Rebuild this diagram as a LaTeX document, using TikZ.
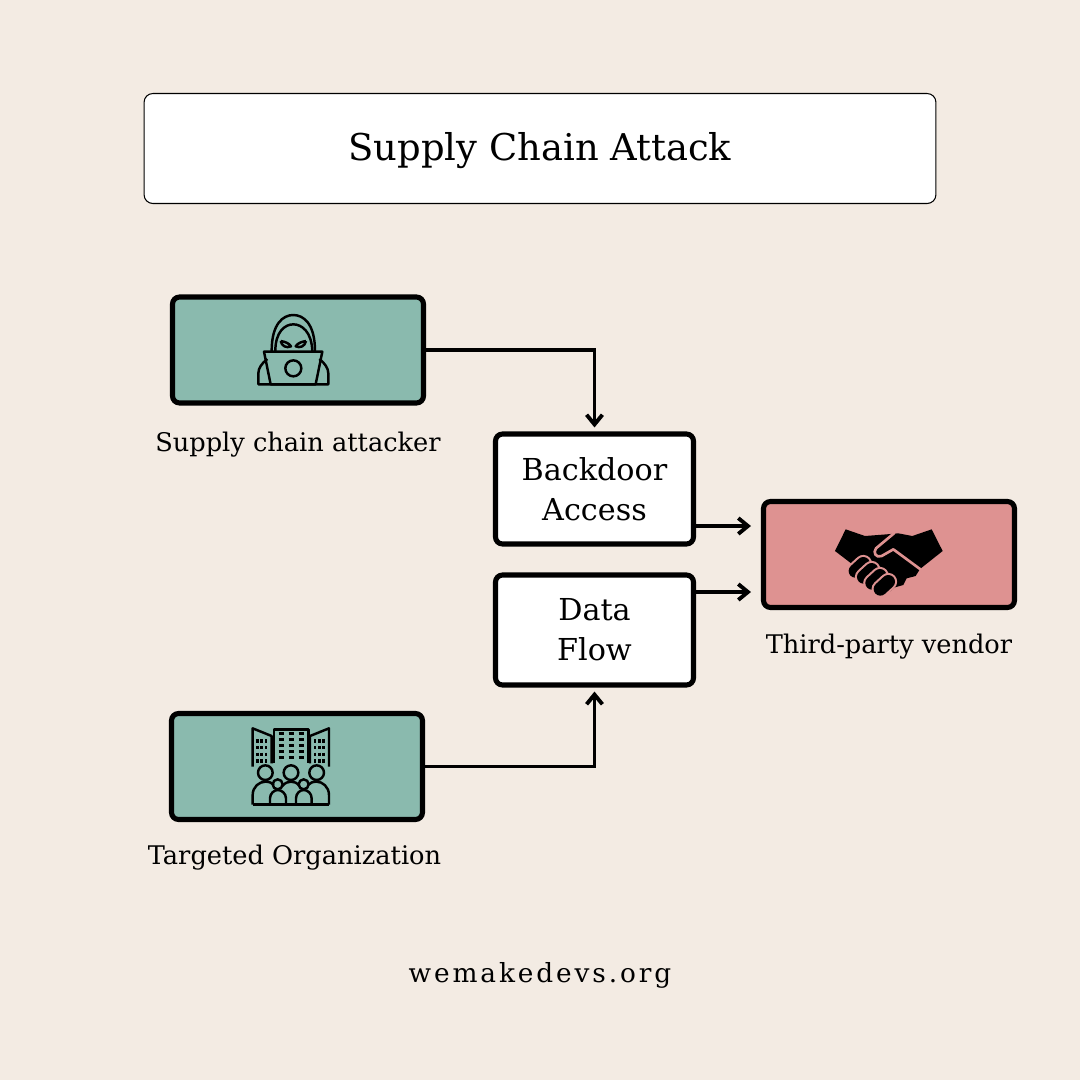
\documentclass[tikz,border=0pt]{standalone}
\usepackage{fontspec}
\setmainfont{DejaVu Serif}
\newfontfamily\footfont[LetterSpace=11]{DejaVu Serif}
\usetikzlibrary{calc,arrows.meta}
\definecolor{paper}{HTML}{F3EBE3}
\definecolor{teal}{HTML}{8ABAAE}
\definecolor{rose}{HTML}{DE9291}
\tikzset{
	titlebox/.style={draw=black, line width=0.6pt, fill=white, rounded corners=5pt, minimum width=15.84cm, minimum height=2.2cm, text height=18.6pt, text depth=5.4pt, font=\fontsize{21}{24}\selectfont},
	iconbox/.style={draw=black, line width=2.9pt, rounded corners=4pt, minimum width=5.02cm, minimum height=2.12cm},
	textbox/.style={draw=black, line width=2.9pt, fill=white, rounded corners=4pt, minimum width=3.96cm, minimum height=2.2cm, align=center, font=\fontsize{17.2}{22.7}\selectfont},
	caption/.style={anchor=base, font=\fontsize{14.6}{16}\selectfont},
	link/.style={line width=2.2pt, -{Straight Barb[length=5.5pt,width=9pt,line width=2.2pt]}},
	icon/.style={line width=1.4pt, line join=round}
}
\begin{document}
\begin{tikzpicture}[x=0.02cm,y=-0.02cm]
		\useasboundingbox (0,0) rectangle (1080,1080);
		\fill[paper] (0,0) rectangle (1080,1080);
		
		\node[titlebox] (title) at (540,148.5) {Supply Chain Attack};
		
		\node[iconbox, fill=teal] (attacker) at (298,350) {};
		\node[iconbox, fill=teal] (target) at (297,766.5) {};
		\node[iconbox, fill=rose] (vendor) at (889,554.5) {};
		\node[textbox] (back) at (594.5,489) {Backdoor\\Access};
		\node[textbox] (data) at (594.5,630) {Data\\Flow};
		
		\node[caption] (attackertext) at (298,451) {Supply chain attacker};
		\node[caption] (targettext) at (294.5,864) {Targeted Organization};
		\node[caption] (vendortext) at (889,653) {Third-party vendor};
		\node[anchor=base, font=\fontsize{15}{16}\footfont] (site) at (540,982) {wemakedevs.org};
		
		\coordinate (backout) at (back.east |- 0,526);
		\coordinate (backin) at (751,526);
		\coordinate (dataout) at (data.east |- 0,592);
		\coordinate (datain) at (751,592);
		\draw[link] (attacker.east) -| ($(back.north)+(0,-4)$);
		\draw[link] (target.east) -| ($(data.south)+(0,4)$);
		\draw[link] (backout) -- (backin);
		\draw[link] (dataout) -- (datain);
		
		% hacker
		\begin{scope}[shift={(160,285)},x=0.00667cm,y=-0.00667cm,icon]
			\draw (335,198) .. controls (335,115) and (370,90) .. (400,90) .. controls (430,90) and (465,115) .. (465,198);
			\draw (346,198) .. controls (346,140) and (375,118) .. (400,118) .. controls (425,118) and (455,140) .. (457,198);
			\draw (362,168) .. controls (375,170) and (388,175) .. (393,184) .. controls (380,190) and (365,184) .. (362,168);
			\draw (438,168) .. controls (425,170) and (412,175) .. (407,184) .. controls (420,190) and (435,184) .. (438,168);
			\draw (312,200) -- (487,200) -- (467,298) -- (332,298) -- cycle;
			\draw (400,250) circle (24);
			\draw (322,222) .. controls (305,235) and (295,250) .. (295,265) -- (295,298) -- (505,298) -- (505,265) .. controls (505,250) and (495,235) .. (478,222);
		\end{scope}
		
		% buildings and people
		\begin{scope}[shift={(160,700)},x=0.00667cm,y=-0.00667cm,icon]
			\draw (278,200) -- (278,85) -- (335,108) -- (335,190);
			\draw (342,190) -- (342,88) -- (445,88) -- (445,190);
			\draw (507,200) -- (507,85) -- (450,108) -- (450,190);
			\foreach \wy in {100,118,136,154,172}{
				\draw[line width=1.5pt] (356,\wy) -- (372,\wy) (386,\wy) -- (402,\wy) (416,\wy) -- (432,\wy);
			}
			\foreach \wx in {292,305,318}{
				\draw[line width=1.4pt, dash pattern=on 1.8pt off 2pt] (\wx,118) -- (\wx,190);
			}
			\foreach \wx in {465,478,491}{
				\draw[line width=1.4pt, dash pattern=on 1.8pt off 2pt] (\wx,118) -- (\wx,190);
			}
			\foreach \px in {316,393,470}{
				\draw (\px,218) circle (22);
			}
			\foreach \px in {353,431}{
				\draw (\px,253) circle (15);
			}
			\draw (278,314) -- (507,314);
			\draw (278,314) -- (278,285) .. controls (278,260) and (298,245) .. (316,245) .. controls (328,245) and (335,248) .. (342,255);
			\draw (507,314) -- (507,285) .. controls (507,260) and (487,245) .. (470,245) .. controls (458,245) and (451,248) .. (444,255);
			\draw (367,258) .. controls (375,248) and (385,245) .. (393,245) .. controls (403,245) and (411,248) .. (418,258);
			\draw (330,314) -- (330,295) .. controls (330,280) and (343,270) .. (353,270) .. controls (365,270) and (378,280) .. (378,295) -- (378,314);
			\draw (408,314) -- (408,295) .. controls (408,280) and (420,270) .. (431,270) .. controls (443,270) and (455,280) .. (455,295) -- (455,314);
		\end{scope}
		
		% handshake
		\begin{scope}[shift={(750,490)},x=0.00667cm,y=-0.00667cm]
			\fill[black] (255,183) -- (287,118) -- (345,138) -- (410,133) -- (445,130) -- (487,138) -- (545,118) -- (578,183) -- (510,237) -- (497,258) -- (470,265) -- (460,285) -- (435,292) -- (420,305) -- (400,290) -- (310,225) -- cycle;
			\draw[rose, line width=1.5pt, line join=round, line cap=round] (432,130) -- (378,175) .. controls (368,188) and (378,205) .. (395,198) -- (430,178) -- (510,237);
			\foreach \fx/\fy in {316/243, 341/261, 366/279, 391/297}{
				\draw[rose, line width=10pt, line cap=round] (\fx,\fy) -- ++(24,-22);
				\draw[black, line width=7.6pt, line cap=round] (\fx,\fy) -- ++(24,-22);
			}
		\end{scope}
		
	\end{tikzpicture}
\end{document}
